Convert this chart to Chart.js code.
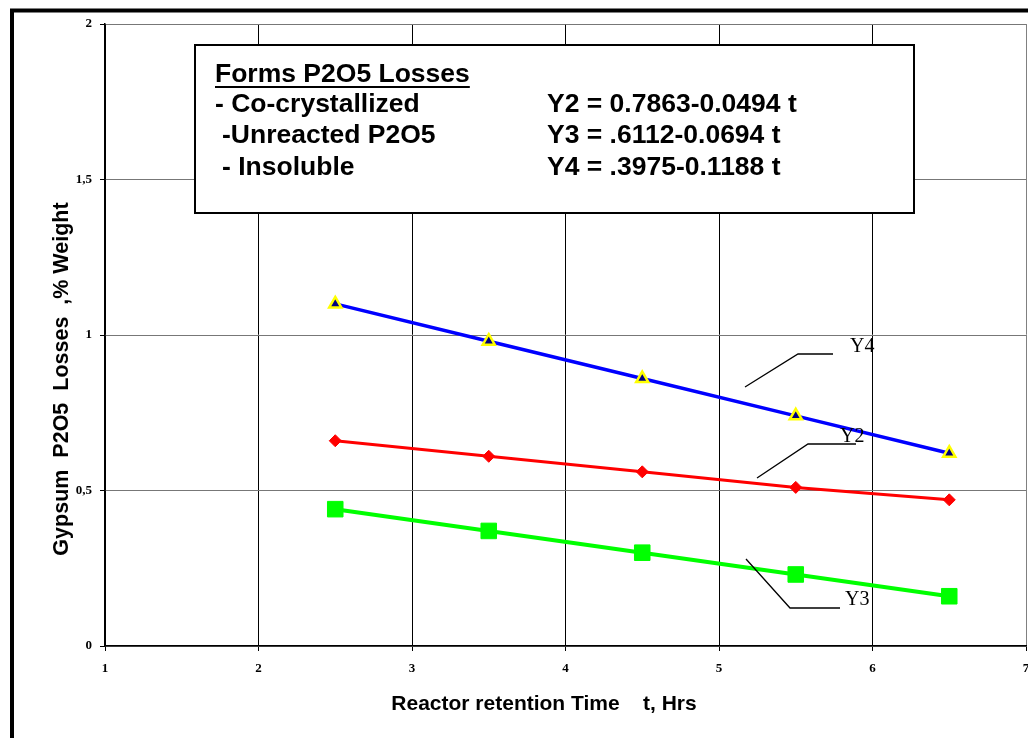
<!DOCTYPE html>
<html>
<head>
<meta charset="utf-8">
<script src="https://cdn.jsdelivr.net/npm/chart.js@4.4.1/dist/chart.umd.min.js"></script>
<style>
html,body{margin:0;padding:0;background:#fff;}
#wrap{width:1028px;height:738px;position:relative;}
</style>
</head>
<body>
<div id="wrap"><canvas id="c" width="1028" height="738"></canvas></div>
<script>
// ---- data ----
const timeHrs = [2.5, 3.5, 4.5, 5.5, 6.5];
const y4Insoluble = [1.10, 0.98, 0.86, 0.74, 0.62];
const y2CoCrystallized = [0.66, 0.61, 0.56, 0.51, 0.47];
const y3Unreacted = [0.44, 0.37, 0.30, 0.23, 0.16];
const xTickValues = [1, 2, 3, 4, 5, 6, 7];
const yTickValues = [0, 0.5, 1, 1.5, 2];
const yTickLabels = ['0', '0,5', '1', '1,5', '2'];
const legendTitle = 'Forms P2O5 Losses';
const legendNames = ['- Co-crystallized', ' -Unreacted P2O5', ' - Insoluble'];
const legendEquations = ['Y2 = 0.7863-0.0494 t', 'Y3 = .6112-0.0694 t', 'Y4 = .3975-0.1188 t'];
const xTitle = 'Reactor retention Time    t, Hrs';
const yTitle = 'Gypsum  P2O5  Losses  ,% Weight';

const pts = (ys) => timeHrs.map((t, i) => ({x: t, y: ys[i]}));

const SANS = '"Liberation Sans", Arial, sans-serif';
const SERIF = '"Liberation Serif", "Times New Roman", serif';

const decor = {
  id: 'decor',
  beforeDraw(chart) {
    const ctx = chart.ctx;
    ctx.save();
    ctx.fillStyle = '#fff';
    ctx.fillRect(0, 0, chart.width, chart.height);
    ctx.restore();
  },
  afterDraw(chart) {
    const ctx = chart.ctx;
    ctx.save();
    // outer frame
    ctx.strokeStyle = '#000';
    ctx.lineWidth = 4;
    ctx.beginPath();
    ctx.moveTo(12, 760);
    ctx.lineTo(12, 10.5);
    ctx.lineTo(1040, 10.5);
    ctx.stroke();

    // legend box
    ctx.fillStyle = '#fff';
    ctx.fillRect(195, 45, 719, 168);
    ctx.lineWidth = 2;
    ctx.strokeStyle = '#000';
    ctx.strokeRect(195, 45, 719, 168);

    ctx.fillStyle = '#000';
    ctx.font = 'bold 26.5px ' + SANS;
    ctx.textBaseline = 'alphabetic';
    ctx.textAlign = 'left';
    ctx.fillText(legendTitle, 215, 82);
    const tw = ctx.measureText(legendTitle).width;
    ctx.fillRect(215, 86, tw, 2);
    const baselines = [112, 143, 175];
    const leftX = [215, 222, 222];
    legendNames.forEach((s, i) => ctx.fillText(s, leftX[i] - (s.startsWith(' ') ? ctx.measureText(' ').width : 0), baselines[i]));
    legendEquations.forEach((s, i) => ctx.fillText(s, 547, baselines[i]));

    // axis titles
    ctx.font = 'bold 21px ' + SANS;
    ctx.textAlign = 'center';
    ctx.textBaseline = 'middle';
    ctx.fillText(xTitle, 544, 704);
    ctx.save();
    ctx.font = 'bold 21.5px ' + SANS;
    ctx.translate(62, 379);
    ctx.rotate(-Math.PI / 2);
    ctx.fillText(yTitle, 0, 0);
    ctx.restore();

    // series annotations with leader lines
    ctx.strokeStyle = '#000';
    ctx.lineWidth = 1.3;
    const leaders = [
      [[745, 387], [798, 354], [833, 354]],
      [[757, 478], [808, 444], [856, 444]],
      [[746, 559], [790, 608], [840, 608]]
    ];
    leaders.forEach(l => {
      ctx.beginPath();
      ctx.moveTo(l[0][0], l[0][1]);
      ctx.lineTo(l[1][0], l[1][1]);
      ctx.lineTo(l[2][0], l[2][1]);
      ctx.stroke();
    });
    ctx.font = '20px ' + SERIF;
    ctx.textAlign = 'left';
    ctx.textBaseline = 'alphabetic';
    ctx.fillText('Y4', 850, 352);
    ctx.fillText('Y2', 840, 442);
    ctx.fillText('Y3', 845, 605);
    ctx.restore();
  }
};

new Chart(document.getElementById('c'), {
  type: 'line',
  data: {
    datasets: [
      {
        label: 'Y4', data: pts(y4Insoluble),
        borderColor: '#0000FF', borderWidth: 3.5,
        pointStyle: 'triangle', pointRadius: 7,
        pointBackgroundColor: '#000080', pointBorderColor: '#FFFF00', pointBorderWidth: 2.5
      },
      {
        label: 'Y2', data: pts(y2CoCrystallized),
        borderColor: '#FF0000', borderWidth: 3,
        pointStyle: 'rectRot', pointRadius: 6,
        pointBackgroundColor: '#FF0000', pointBorderColor: '#FF0000', pointBorderWidth: 1
      },
      {
        label: 'Y3', data: pts(y3Unreacted),
        borderColor: '#00FF00', borderWidth: 4,
        pointStyle: 'rect', pointRadius: 11,
        pointBackgroundColor: '#00FF00', pointBorderColor: '#00FF00', pointBorderWidth: 1
      }
    ]
  },
  options: {
    responsive: false,
    animation: false,
    events: [],
    layout: {autoPadding: false, padding: {left: 0, right: 2, top: 24, bottom: 0}},
    plugins: {legend: {display: false}, tooltip: {enabled: false}},
    scales: {
      x: {
        type: 'linear', min: 1, max: 7,
        afterFit(s) { s.height = 92; s.paddingLeft = 0; s.paddingRight = 0; },
        afterBuildTicks(s) { s.ticks = xTickValues.map(v => ({value: v})); },
        ticks: {
          padding: 10, maxRotation: 0, autoSkip: false,
          color: '#000', font: {family: SERIF, size: 13, weight: 'bold'},
          callback: (v) => String(v)
        },
        grid: {
          color: (c) => (c.tick && c.tick.value === 7) ? '#808080' : '#000',
          lineWidth: 1, tickLength: 5, tickColor: '#000'
        },
        border: {color: '#000', width: 1.5}
      },
      y: {
        type: 'linear', min: 0, max: 2,
        afterFit(s) { s.width = 105; },
        afterBuildTicks(s) { s.ticks = yTickValues.map(v => ({value: v})); },
        ticks: {
          padding: 8, autoSkip: false,
          color: '#000', font: {family: SERIF, size: 13, weight: 'bold'},
          callback: (v) => yTickLabels[yTickValues.indexOf(v)]
        },
        grid: {color: '#777', lineWidth: 1, tickLength: 5, tickColor: '#000'},
        border: {color: '#000', width: 1.5}
      }
    }
  },
  plugins: [decor]
});
</script>
</body>
</html>
